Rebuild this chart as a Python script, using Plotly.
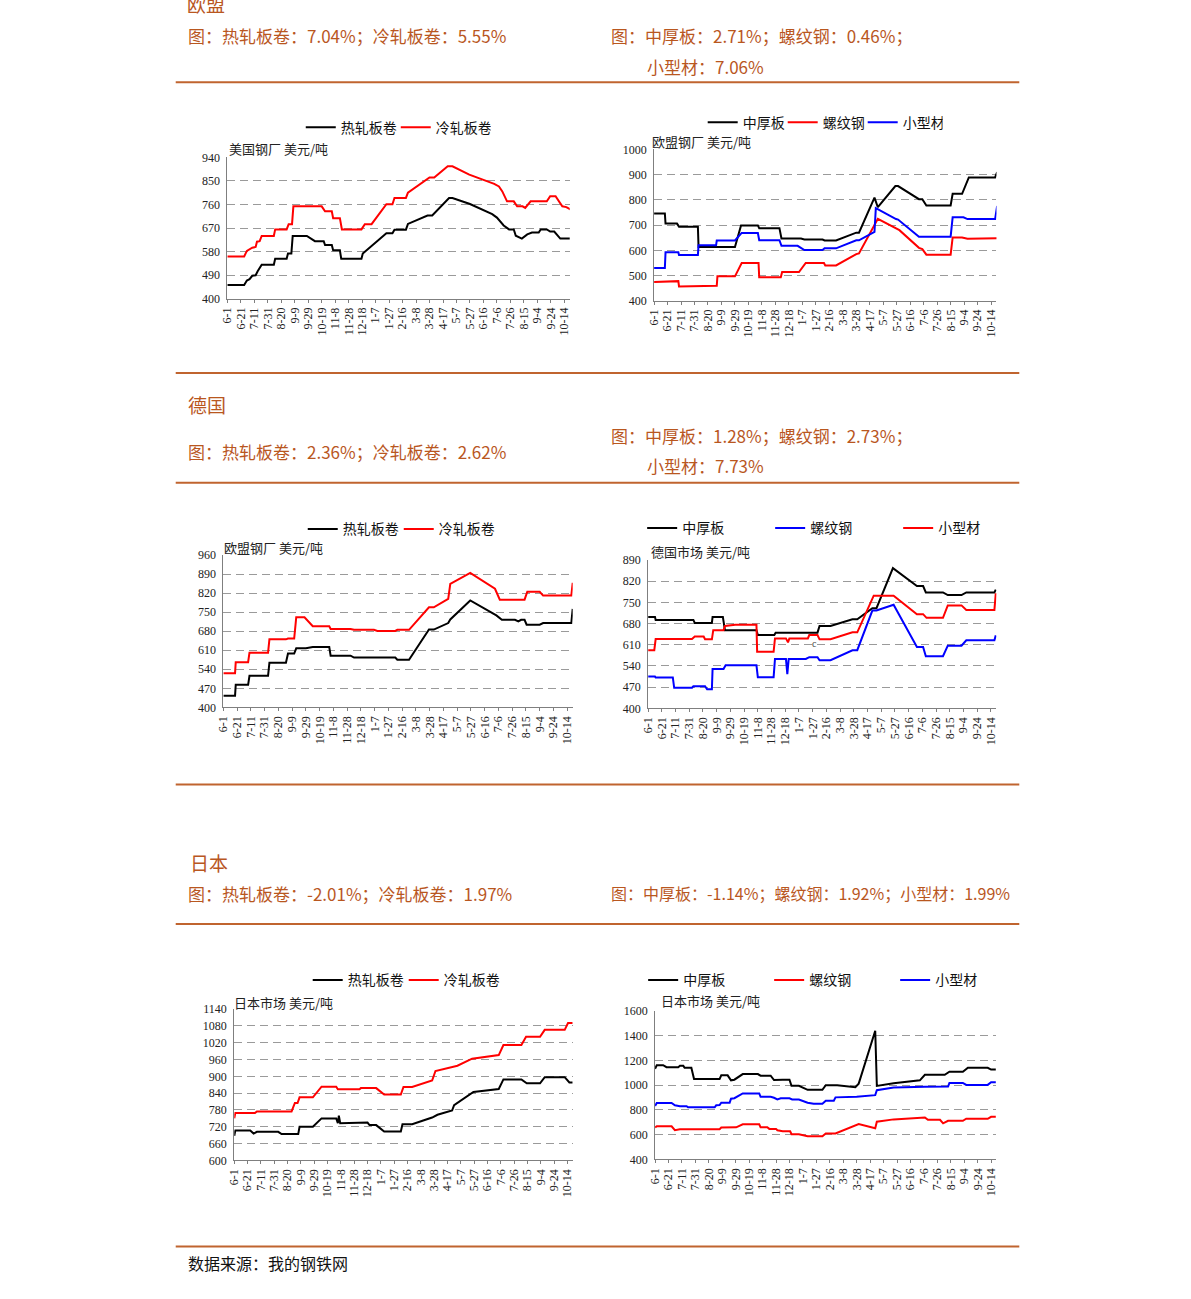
import plotly.graph_objects as go

W, H = 1191, 1299

# ---------------- axis categories ----------------
TICK_DAYS = list(range(0, 501, 20))
TICK_LABELS = ["6-1", "6-21", "7-11", "7-31", "8-20", "9-9", "9-29", "10-19", "11-8",
               "11-28", "12-18", "1-7", "1-27", "2-16", "3-8", "3-28", "4-17", "5-7",
               "5-27", "6-16", "7-6", "7-26", "8-15", "9-4", "9-24", "10-14"]

# ---------------- 美国 (panel 1) ----------------
us_hrc_days = [0, 25, 29, 33, 37, 42, 45, 51, 69, 71, 88, 90, 95, 97, 118, 130, 143, 145, 155, 157,
               167, 169, 199, 201, 236, 245, 248, 265, 268, 297, 304, 329, 334, 360, 393, 400, 410,
               418, 425, 428, 437, 445, 452, 462, 465, 474, 479, 485, 494, 509]
us_hrc_vals = [453, 453, 470, 475, 488, 490, 505, 530, 530, 553, 553, 573, 573, 640, 640, 620, 620,
               605, 605, 585, 585, 553, 553, 573, 650, 650, 664, 664, 686, 718, 718, 785, 785, 762,
               723, 710, 680, 665, 665, 641, 630, 646, 653, 653, 665, 665, 657, 657, 630, 630]
us_crc_days = [0, 25, 29, 37, 42, 44, 48, 51, 69, 71, 88, 91, 96, 98, 140, 145, 155, 157, 167, 170,
               199, 204, 214, 236, 245, 248, 265, 268, 300, 307, 327, 334, 359, 396, 403, 408, 415,
               425, 430, 438, 442, 450, 474, 479, 487, 497, 503, 509]
us_crc_vals = [562, 562, 583, 595, 598, 618, 620, 640, 640, 665, 665, 685, 685, 753, 753, 734, 734,
               708, 708, 665, 665, 685, 685, 761, 761, 785, 785, 805, 863, 863, 906, 906, 874, 839,
               829, 810, 772, 772, 753, 753, 747, 772, 772, 792, 792, 753, 750, 741]

# ---------------- 欧盟 (panel 2) ----------------
eu_plate_days = [0, 16, 17, 34, 37, 65, 66, 120, 129, 154, 156, 186, 189, 218, 223, 250, 253, 270,
                 300, 304, 327, 332, 358, 362, 393, 398, 404, 440, 443, 457, 467, 506, 509]
eu_plate_vals = [746, 746, 706, 706, 694, 694, 613, 613, 699, 699, 688, 688, 647, 647, 643, 643, 639,
                 639, 670, 670, 809, 771, 855, 855, 803, 803, 778, 778, 824, 824, 889, 889, 910]
eu_rebar_days = [0, 16, 17, 36, 37, 62, 63, 93, 94, 120, 130, 155, 156, 188, 190, 215, 225, 252, 254,
                 270, 300, 304, 332, 359, 364, 393, 398, 404, 440, 443, 457, 465, 506, 509]
eu_rebar_vals = [475, 475, 478, 478, 457, 457, 460, 460, 497, 497, 550, 550, 493, 493, 514, 514, 550,
                 550, 540, 540, 585, 588, 725, 685, 680, 610, 605, 583, 583, 651, 651, 646, 646, 648]
eu_sect_days = [0, 16, 17, 36, 37, 65, 66, 92, 93, 120, 130, 154, 156, 186, 189, 213, 223, 250, 253,
                270, 300, 304, 327, 329, 359, 362, 393, 440, 443, 459, 465, 506, 509]
eu_sect_vals = [530, 530, 592, 592, 582, 582, 620, 620, 639, 639, 669, 669, 640, 640, 618, 618, 601,
                601, 608, 608, 640, 640, 673, 767, 724, 722, 654, 654, 731, 731, 724, 724, 776]

# ---------------- 德国 (panels 3, 4) ----------------
de_hrc_days = [0, 17, 18, 36, 38, 65, 67, 91, 94, 103, 106, 120, 130, 154, 156, 185, 190, 250, 253,
               270, 299, 306, 327, 330, 359, 393, 397, 405, 424, 429, 433, 438, 441, 460, 465, 506, 508]
de_hrc_vals = [443, 443, 483, 483, 516, 516, 564, 564, 598, 598, 617, 617, 622, 622, 590, 590, 583,
               583, 575, 575, 686, 686, 710, 723, 793, 742, 738, 722, 722, 716, 722, 722, 704, 704,
               710, 710, 762]
de_crc_days = [0, 17, 18, 36, 38, 65, 67, 91, 94, 103, 106, 118, 130, 154, 156, 185, 190, 219, 224,
               250, 253, 270, 299, 306, 327, 330, 359, 395, 402, 438, 442, 460, 465, 506, 508]
de_crc_vals = [525, 525, 566, 566, 601, 601, 650, 650, 653, 653, 731, 731, 698, 698, 688, 688, 685,
               685, 681, 681, 685, 685, 768, 768, 799, 854, 894, 836, 796, 796, 825, 825, 811, 811, 858]

de_plate_days = [0, 10, 11, 66, 68, 93, 94, 109, 112, 158, 160, 184, 186, 247, 250, 266, 298, 305,
                 327, 333, 357, 392, 401, 405, 430, 437, 457, 464, 505, 507]
de_plate_vals = [702, 702, 692, 692, 682, 682, 702, 702, 658, 658, 642, 642, 650, 650, 672, 672, 694,
                 694, 731, 731, 863, 804, 804, 783, 783, 774, 774, 783, 783, 792]
de_rebar_days = [0, 10, 11, 36, 38, 64, 66, 83, 86, 93, 94, 110, 113, 158, 160, 183, 185, 201, 203,
                 205, 230, 235, 247, 250, 266, 298, 305, 327, 333, 358, 392, 401, 405, 430, 437, 457,
                 464, 505, 507]
de_rebar_vals = [505, 505, 502, 502, 468, 468, 473, 473, 463, 463, 530, 530, 542, 542, 503, 503, 563,
                 563, 513, 563, 563, 569, 569, 559, 559, 592, 592, 723, 723, 742, 603, 603, 572, 572,
                 607, 607, 625, 625, 641]
de_sect_days = [0, 9, 11, 64, 68, 81, 83, 93, 95, 110, 112, 127, 158, 159, 183, 185, 201, 204, 206,
                233, 235, 247, 250, 266, 298, 305, 329, 358, 392, 401, 406, 430, 437, 457, 464, 505, 507]
de_sect_vals = [592, 592, 629, 629, 637, 637, 628, 628, 658, 658, 672, 676, 676, 587, 587, 631, 631,
                618, 631, 631, 642, 642, 628, 628, 651, 651, 772, 772, 711, 711, 699, 699, 740, 740,
                725, 725, 780]

# ---------------- 日本 (panels 5, 6) ----------------
jp_hrc_days = [0, 1.5, 24, 29, 34, 66, 71, 96, 98, 118, 131, 153, 155.5, 157, 159, 188, 190, 200, 203,
               213, 225, 250, 252.5, 267, 297, 305, 327, 330, 359, 397, 404, 431, 439, 459, 466, 496,
               503, 508]
jp_hrc_vals = [688, 707, 707, 696, 702, 702, 694, 694, 720, 720, 750, 750, 733, 760, 733, 733, 735,
               735, 726, 726, 703, 703, 729, 729, 753, 763, 778, 797, 844, 855, 889, 889, 875, 875,
               897, 897, 878, 878]
jp_crc_days = [0, 1.5, 31, 34, 86, 91, 95, 98, 118, 131, 153, 155.5, 188, 190, 213, 225, 250, 254,
               267, 297, 302, 332, 335, 357, 397, 404, 431, 438, 459, 466, 496, 501, 508]
jp_crc_vals = [750, 769, 769, 775, 775, 805, 805, 825, 825, 863, 863, 854, 854, 858, 858, 835, 835,
               862, 862, 885, 919, 938, 938, 963, 976, 1012, 1012, 1041, 1041, 1066, 1066, 1090, 1090]

jp_plate_days = [0, 2.5, 12, 17, 34.5, 37, 42, 44, 54, 58, 96, 98.5, 108, 113, 118, 130.5, 153, 157,
                 172, 177, 190, 200, 203, 214, 227, 249, 254, 271, 298, 303, 327.6, 330, 355, 394,
                 401.5, 431, 438, 458, 465.5, 495, 500, 507]
jp_plate_vals = [1133, 1162, 1162, 1146, 1146, 1157, 1157, 1141, 1141, 1050, 1050, 1080, 1080, 1040,
                 1045, 1090, 1090, 1077, 1077, 1042, 1045, 1045, 995, 995, 963, 963, 1000, 1000, 984,
                 1013, 1441, 995, 1016, 1040, 1085, 1085, 1109, 1109, 1141, 1141, 1127, 1127]
jp_rebar_days = [0, 2.5, 24.6, 29.5, 37, 96, 98.5, 120.7, 130.5, 155, 157, 167, 170, 180, 182, 190,
                 201, 203, 214, 227, 249, 254, 268.5, 303, 327.6, 330, 355, 394, 401.5, 406, 424,
                 428.6, 436, 458, 463, 495, 500, 507]
jp_rebar_vals = [660, 668, 668, 636, 644, 644, 658, 660, 684, 684, 660, 660, 647, 647, 636, 628, 628,
                 604, 604, 588, 588, 610, 610, 687, 652, 705, 724, 734, 740, 721, 721, 692, 713, 713,
                 729, 729, 745, 745]
jp_sect_days = [0, 2.5, 24.6, 29.5, 37, 47, 49, 88.7, 91, 96, 98.5, 111, 113, 118, 130.5, 155, 157,
                172, 177, 182, 187, 200, 204, 214, 227, 236, 249, 254, 266, 268.5, 300, 327.6, 330,
                355, 401.5, 436, 438, 458, 463, 495, 500, 507]
jp_sect_vals = [833, 857, 857, 838, 830, 830, 822, 822, 838, 840, 859, 859, 891, 895, 934, 934, 907,
                907, 899, 886, 894, 894, 885, 885, 859, 851, 851, 875, 875, 902, 907, 920, 960, 981,
                987, 990, 1019, 1019, 1003, 1003, 1024, 1024]

# ---------------- styling helpers ----------------
BLACK, RED, BLUE = "#000000", "#FF0000", "#0000FF"
ACCENT = "#B9571F"
RULE = "#C0642F"
CJK = "Noto Sans CJK SC"
NUM = "Liberation Serif"


def px(x):
    return x / W


def py(y):
    return 1 - y / H


fig = go.Figure()

panels = [
    dict(x=(222, 567), y=(152, 295), yr=(400, 940), dt=90, unit="美国钢厂 美元/吨", upos=(222, 143),
         lpos=(296, 122), ew=50,
         series=[("热轧板卷", BLACK, us_hrc_days, us_hrc_vals), ("冷轧板卷", RED, us_crc_days, us_crc_vals)]),
    dict(x=(652, 997), y=(144, 297), yr=(400, 1000), dt=100, unit="欧盟钢厂 美元/吨", upos=(648, 136),
         lpos=(701, 117), ew=35,
         series=[("中厚板", BLACK, eu_plate_days, eu_plate_vals), ("螺纹钢", RED, eu_rebar_days, eu_rebar_vals),
                 ("小型材", BLUE, eu_sect_days, eu_sect_vals)]),
    dict(x=(218, 570), y=(554, 708), yr=(400, 960), dt=70, unit="欧盟钢厂 美元/吨", upos=(217, 546),
         lpos=(298, 528), ew=51,
         series=[("热轧板卷", BLACK, de_hrc_days, de_hrc_vals), ("冷轧板卷", RED, de_crc_days, de_crc_vals)]),
    dict(x=(646, 997), y=(559, 709), yr=(400, 890), dt=70, unit="德国市场 美元/吨", upos=(647, 550),
         lpos=(640, 527), ew=83,
         series=[("中厚板", BLACK, de_plate_days, de_plate_vals), ("螺纹钢", BLUE, de_rebar_days, de_rebar_vals),
                 ("小型材", RED, de_sect_days, de_sect_vals)]),
    dict(x=(229, 570), y=(1013, 1166), yr=(600, 1140), dt=60, unit="日本市场 美元/吨", upos=(227, 1006),
         lpos=(303, 984), ew=51,
         series=[("热轧板卷", BLACK, jp_hrc_days, jp_hrc_vals), ("冷轧板卷", RED, jp_crc_days, jp_crc_vals)]),
    dict(x=(653, 997), y=(1015, 1165), yr=(400, 1600), dt=200, unit="日本市场 美元/吨", upos=(657, 1004),
         lpos=(641, 984), ew=81,
         series=[("中厚板", BLACK, jp_plate_days, jp_plate_vals), ("螺纹钢", RED, jp_rebar_days, jp_rebar_vals),
                 ("小型材", BLUE, jp_sect_days, jp_sect_vals)]),
]

annotations = []
layout_updates = {}

for i, p in enumerate(panels, start=1):
    sfx = "" if i == 1 else str(i)
    leg = "legend" if i == 1 else f"legend{i}"
    for name, color, xs, ys in p["series"]:
        fig.add_trace(go.Scatter(
            x=xs, y=ys, mode="lines", name=name,
            line=dict(color=color, width=2),
            xaxis="x" + sfx, yaxis="y" + sfx, legend=leg, showlegend=True,
            hoverinfo="skip"))
    layout_updates["xaxis" + sfx] = dict(
        domain=[px(p["x"][0]), px(p["x"][1])], anchor="y" + sfx, range=[0, 508],
        tickmode="array", tickvals=TICK_DAYS, ticktext=TICK_LABELS, tickangle=-90,
        showline=True, linecolor="#7F7F7F", linewidth=1, showgrid=False, zeroline=False,
        ticks="outside", ticklen=3, tickcolor="#7F7F7F",
        tickfont=dict(family=NUM, size=12, color="#222222"), fixedrange=True)
    layout_updates["yaxis" + sfx] = dict(
        domain=[py(p["y"][1]), py(p["y"][0])], anchor="x" + sfx, range=list(p["yr"]),
        tick0=p["yr"][0], dtick=p["dt"],
        showline=True, linecolor="#7F7F7F", linewidth=1,
        showgrid=True, gridcolor="#9A9A9A", griddash="8px,5px", gridwidth=1, zeroline=False,
        ticks="", ticklabelstandoff=4,
        tickfont=dict(family=NUM, size=12, color="#222222"), fixedrange=True)
    layout_updates[leg] = dict(
        orientation="h", x=px(p["lpos"][0]), y=py(p["lpos"][1]), xanchor="left", yanchor="middle",
        xref="paper", yref="paper", bgcolor="rgba(0,0,0,0)", borderwidth=0,
        font=dict(family=CJK, size=14, color="#111111"), itemwidth=30,
        entrywidth=p["ew"], entrywidthmode="pixels", tracegroupgap=0)
    annotations.append(dict(
        text=p["unit"], x=px(p["upos"][0]), y=py(p["upos"][1]), xref="paper", yref="paper",
        xanchor="left", yanchor="middle", showarrow=False,
        font=dict(family=CJK, size=13, color="#222222")))

# stray glyph in the German long-products chart
annotations.append(dict(text="c", x=242, y=615, xref="x4", yref="y4", showarrow=False,
                        font=dict(family=NUM, size=10, color="#444444")))

# ---------------- page header texts ----------------
header_texts = [
    ("欧盟", 179, -4, 19),
    ("图：热轧板卷：7.04%；冷轧板卷：5.55%", 180, 29, 17),
    ("图：中厚板：2.71%；螺纹钢：0.46%；", 607, 29, 17),
    ("小型材：7.06%", 643, 60, 17),
    ("德国", 180, 402, 19),
    ("图：热轧板卷：2.36%；冷轧板卷：2.62%", 180, 449, 17),
    ("图：中厚板：1.28%；螺纹钢：2.73%；", 607, 433, 17),
    ("小型材：7.73%", 643, 464, 17),
    ("日本", 182, 865, 19),
    ("图：热轧板卷：-2.01%；冷轧板卷：1.97%", 180, 896, 17),
    ("图：中厚板：-1.14%；螺纹钢：1.92%；小型材：1.99%", 607, 896, 16),
]
for txt, x, y, sz in header_texts:
    annotations.append(dict(text=txt, x=px(x), y=py(y), xref="paper", yref="paper",
                            xanchor="left", yanchor="middle", showarrow=False,
                            font=dict(family=CJK, size=sz, color=ACCENT)))
annotations.append(dict(text="数据来源：我的钢铁网", x=px(180), y=py(1270), xref="paper", yref="paper",
                        xanchor="left", yanchor="middle", showarrow=False,
                        font=dict(family=CJK, size=16, color="#111111")))

shapes = []
for y in [76, 370, 481, 786, 927, 1253]:
    shapes.append(dict(type="line", xref="paper", yref="paper", x0=px(170), x1=px(1020),
                       y0=py(y), y1=py(y), line=dict(color=RULE, width=2)))

fig.update_layout(
    width=W, height=H, margin=dict(l=0, r=0, t=0, b=0),
    paper_bgcolor="white", plot_bgcolor="white",
    annotations=annotations, shapes=shapes, showlegend=True,
    **layout_updates)

fig.write_html("out.html",
               config={"displayModeBar": False},
               post_script="document.body.style.margin='0';document.body.style.overflow='hidden';")
